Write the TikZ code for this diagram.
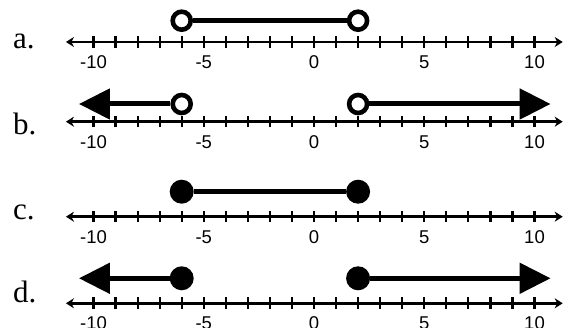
\documentclass[tikz,border=0pt]{standalone}
\usepackage{fontspec}
\setmainfont{Liberation Serif}
\newfontfamily\numfont{Liberation Sans}
\usetikzlibrary{arrows.meta}

\tikzset{
  axis/.style={line width=2.6pt,
    {Stealth[length=8pt,width=10pt,inset=2.5pt]}-{Stealth[length=8pt,width=10pt,inset=2.5pt]}},
  tickmark/.style={line width=2.2pt},
  ticklabel/.style={font=\numfont\fontsize{18.5}{18.5}\selectfont, anchor=base, inner sep=0pt},
  ray/.style={line width=5pt},
  bigtip/.style={-{Triangle[length=31pt,width=30pt]}},
  opendot/.style={circle, draw, line width=4.6pt, fill=white, minimum size=18pt, inner sep=0pt},
  closeddot/.style={circle, fill, minimum size=24pt, inner sep=0pt},
  itemlabel/.style={font=\fontsize{31}{31}\selectfont, anchor=base west, inner sep=0pt}
}

\begin{document}
\begin{tikzpicture}[x=1pt,y=1pt]
\useasboundingbox (0,0) rectangle (576,328);

% item letters
\node[itemlabel] (la) at (13,279) {a.};
\node[itemlabel] (lb) at (13,193) {b.};
\node[itemlabel] (lc) at (13,108) {c.};
\node[itemlabel] (ld) at (13,25) {d.};

\begin{scope}[xshift=314pt, x=22.05pt, y=1pt]
  % four number lines from -10 to 10
  \foreach \r/\yy in {a/286, b/206.3, c/111.3, d/24.7} {
    \coordinate (\r-left) at (-11.25,\yy);
    \coordinate (\r-right) at (11.28,\yy);
    \draw[axis] (\r-left) -- (\r-right);
    \foreach \k in {-10,...,10}
      \draw[tickmark] (\k,\yy-5.8) -- (\k,\yy+5.8);
    \foreach \k in {-10,-5,0,5,10}
      \node[ticklabel] (\r-n\k) at (\k,\yy-26.5) {\k};
  }

  % a. open interval between -6 and 2
  \node[opendot] (a1) at (-6,307.3) {};
  \node[opendot] (a2) at (2,307.3) {};
  \draw[ray] (a1.east) -- (a2.west);

  % b. two rays with open endpoints
  \node[opendot] (b1) at (-6,224) {};
  \node[opendot] (b2) at (2,224) {};
  \coordinate (bl) at (-10.66,224);
  \coordinate (br) at (10.73,224);
  \draw[ray, bigtip] (b1.west) -- (bl);
  \draw[ray, bigtip] (b2.east) -- (br);

  % c. closed interval between -6 and 2
  \node[closeddot] (c1) at (-6,136.3) {};
  \node[closeddot] (c2) at (2,136.3) {};
  \draw[ray] (c1.east) -- (c2.west);

  % d. two rays with closed endpoints
  \node[closeddot] (d1) at (-6,49.7) {};
  \node[closeddot] (d2) at (2,49.7) {};
  \coordinate (dl) at (-10.66,49.7);
  \coordinate (dr) at (10.73,49.7);
  \draw[ray, bigtip] (d1.west) -- (dl);
  \draw[ray, bigtip] (d2.east) -- (dr);
\end{scope}
\end{tikzpicture}
\end{document}
